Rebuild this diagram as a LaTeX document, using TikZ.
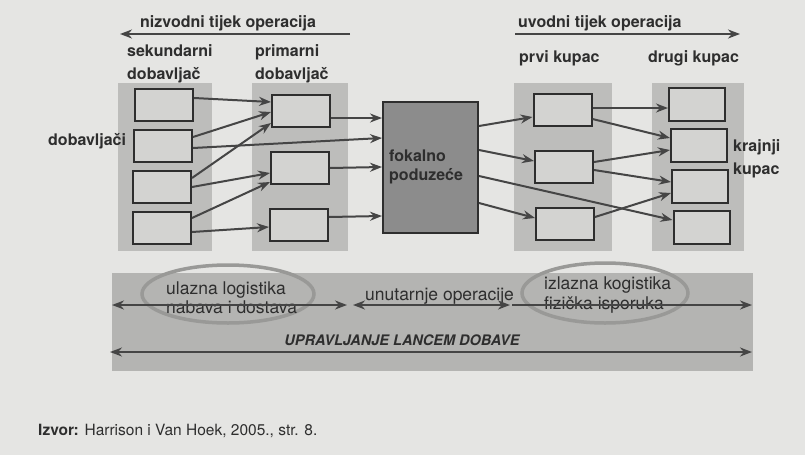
\documentclass[tikz,border=0pt]{standalone}
\usepackage{fontspec}
\setmainfont{TeX Gyre Heros}
\usetikzlibrary{arrows.meta,positioning}
\definecolor{paper}{HTML}{E5E5E3}
\definecolor{colgray}{HTML}{BDBDBB}
\definecolor{boxgray}{HTML}{D3D3D1}
\definecolor{ink}{HTML}{2E2E2E}
\definecolor{linegray}{HTML}{454545}
\definecolor{focalgray}{HTML}{8C8C8C}
\definecolor{bandgray}{HTML}{B4B4B2}
\definecolor{ringgray}{HTML}{999997}
\tikzset{
	box/.style={draw=ink, fill=boxgray, line width=2pt, minimum width=58pt, minimum height=32pt, inner sep=0pt},
	flow/.style={draw=linegray, line width=2pt, -{Stealth[length=12pt,width=9pt]}},
	twoway/.style={draw=linegray, line width=2pt, {Stealth[length=12pt,width=9pt]}-{Stealth[length=12pt,width=9pt]}},
	lbl/.style={text=ink, font=\bfseries\fontsize{16}{23}\selectfont, align=left, inner sep=0pt, anchor=west},
	bandlbl/.style={text=ink, font=\fontsize{17.5}{19}\selectfont, align=left, inner sep=0pt, anchor=west},
}
\begin{document}
\begin{tikzpicture}[x=1pt,y=-1pt]
			\fill[paper] (0,0) rectangle (805,455);
			\useasboundingbox (0,0) rectangle (805,455);
			
			\fill[colgray] (118,83) rectangle (212,251);
			\fill[colgray] (252,83) rectangle (348,251);
			\fill[colgray] (514,83) rectangle (612,251);
			\fill[colgray] (652,83) rectangle (744,251);
			
			\node[box] (s1) at (164,105) {};
			\node[box] (s2) at (163,146) {};
			\node[box] (s3) at (162,187) {};
			\node[box] (s4) at (162,228) {};
			
			\node[box] (p1) at (301,111) {};
			\node[box] (p2) at (300,168) {};
			\node[box] (p3) at (299,225) {};
			
			\node[box, fill=focalgray, minimum width=95pt, minimum height=131pt] (focal) at (430.5,167.5) {};
			
			\node[box] (k1) at (562.5,110) {};
			\node[box] (k2) at (564,166.5) {};
			\node[box] (k3) at (565,224) {};
			
			\node[box, minimum width=56pt, minimum height=33pt] (d1) at (697,104.5) {};
			\node[box, minimum width=56pt, minimum height=33pt] (d2) at (699,145.5) {};
			\node[box, minimum width=56pt, minimum height=33pt] (d3) at (700,186) {};
			\node[box, minimum width=56pt, minimum height=33pt] (d4) at (701.5,227.5) {};
			
			\draw[flow] ([yshift=7pt]s1.east) -- ([yshift=9pt]p1.west);
			\draw[flow] ([yshift=9pt]s2.east) -- ([yshift=-1pt]p1.west);
			\draw[flow] ([yshift=-2pt]s2.east) -- ([yshift=29.5pt]focal.west);
			\draw[flow] ([yshift=9pt]s3.east) -- ([yshift=-12pt]p1.west);
			\draw[flow] (s3.east) -- ([yshift=-5pt]p2.west);
			\draw[flow] ([yshift=10pt]s4.east) -- ([yshift=-14pt]p2.west);
			\draw[flow] ([yshift=-4pt]s4.east) -- ([yshift=-2pt]p3.west);
			
			\draw[flow] ([yshift=-7pt]p1.east) -- ([yshift=49.5pt]focal.west);
			\draw[flow] (p2.east) -- ([yshift=0.5pt]focal.west);
			\draw[flow] ([yshift=8pt]p3.east) -- ([yshift=-48.5pt]focal.west);
			
			\draw[flow] ([yshift=41.5pt]focal.east) -- ([yshift=-7pt]k1.west);
			\draw[flow] ([yshift=17.5pt]focal.east) -- ([yshift=5.5pt]k2.west);
			\draw[flow] ([yshift=-8.5pt]focal.east) -- ([yshift=7.5pt]d4.west);
			\draw[flow] ([yshift=-35.5pt]focal.east) -- ([yshift=6pt]k3.west);
			
			\draw[flow] ([yshift=2pt]k1.east) -- ([yshift=-3.5pt]d1.west);
			\draw[flow] ([yshift=-9pt]k1.east) -- ([yshift=7.5pt]d2.west);
			\draw[flow] ([yshift=4.5pt]k2.east) -- ([yshift=-4.5pt]d2.west);
			\draw[flow] ([yshift=-3.5pt]k2.east) -- ([yshift=4pt]d3.west);
			\draw[flow] ([yshift=7pt]k3.east) -- ([yshift=-7pt]d3.west);
			
			\coordinate (downR) at (350,34);
			\coordinate (downL) at (120,34);
			\coordinate (upL) at (515,34);
			\coordinate (upR) at (740,34);
			\draw[flow] (downR) -- (downL);
			\draw[flow] (upL) -- (upR);
			
			\node[lbl] (downtxt) at (140,23) {nizvodni tijek operacija};
			\node[lbl] (uptxt) at (518,23.5) {uvodni tijek operacija};
			\node[lbl] (sec) at (127,64) {sekundarni\\dobavljač};
			\node[lbl] (prim) at (255,64) {primarni\\dobavljač};
			\node[lbl] (first) at (519,58) {prvi kupac};
			\node[lbl] (second) at (648,58) {drugi kupac};
			\node[lbl] (suppliers) at (48,141) {dobavljači};
			\node[lbl] (endcust) at (733,159) {krajnji\\kupac};
			\node[lbl, font=\bfseries\fontsize{16}{19}\selectfont] (focaltxt) at (389,167) {fokalno\\poduzeće};
			
			\fill[bandgray] (112,273) rectangle (753,371);
			\draw[ringgray, line width=3.5pt] (228,294) ellipse [x radius=86, y radius=29];
			\draw[ringgray, line width=3.5pt] (605,293) ellipse [x radius=83, y radius=30];
			
			\node[bandlbl] (inbound) at (166,298) {ulazna logistika\\nabava i dostava};
			\node[bandlbl] (internal) at (365,296) {unutarnje operacije};
			\node[bandlbl, font=\fontsize{17.5}{20}\selectfont] (outbound) at (544,295) {izlazna kogistika\\fizička isporuka};
			\node[text=ink, font=\bfseries\itshape\fontsize{14.5}{16}\selectfont, inner sep=0pt] (scm) at (402,340) {UPRAVLJANJE LANCEM DOBAVE};
			
			\coordinate (a1) at (112,305);
			\coordinate (a2) at (347,305);
			\coordinate (b1) at (353,305);
			\coordinate (b2) at (510,305);
			\coordinate (c1) at (512,305);
			\coordinate (c2) at (752,305);
			\coordinate (e1) at (110,352);
			\coordinate (e2) at (752,352);
			\draw[twoway] (a1) -- (a2);
			\draw[twoway] (b1) -- (b2);
			\draw[flow] (c1) -- (c2);
			\draw[twoway] (e1) -- (e2);
			
			\node[text=ink, font=\fontsize{15.5}{18}\selectfont, inner sep=0pt, anchor=west] (source) at (38,431) {\textbf{Izvor:} Harrison i Van Hoek, 2005., str. 8.};
		\end{tikzpicture}
\end{document}
